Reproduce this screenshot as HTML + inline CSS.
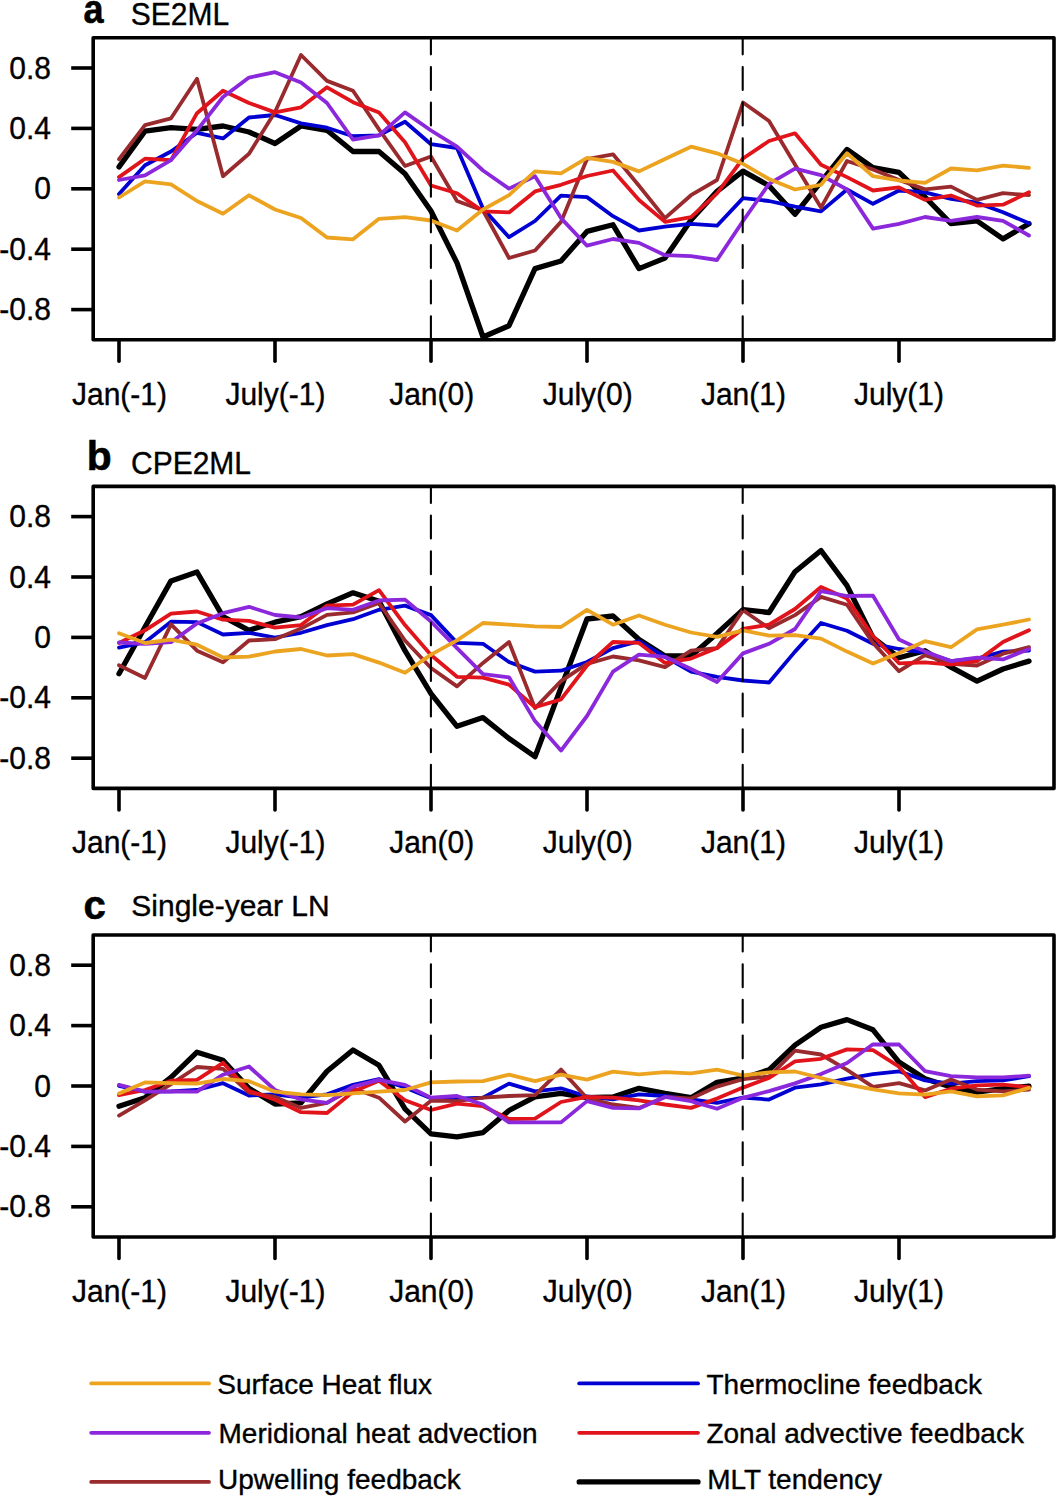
<!DOCTYPE html>
<html><head><meta charset="utf-8"><title>chart</title>
<style>html,body{margin:0;padding:0;background:#fff;}svg{display:block;}</style>
</head><body>
<svg width="1057" height="1497" viewBox="0 0 1057 1497">
<rect x="0" y="0" width="1057" height="1497" fill="#fff"/>

<text transform="translate(83.52,22.60) scale(0.9,1.0)" font-family="'Liberation Sans', sans-serif" font-size="40" font-weight="bold" stroke="#000" stroke-width="0.6">a</text>
<text transform="translate(130.85,25.05) scale(1.0,1.04)" font-family="'Liberation Sans', sans-serif" font-size="30.0" stroke="#000" stroke-width="0.35">SE2ML</text>
<g transform="translate(0,0.0)">
<line x1="71.2" y1="68.0" x2="93.2" y2="68.0" stroke="#000" stroke-width="3.6"/>
<text transform="translate(9.30,78.60) scale(1.0,1.02)" font-family="'Liberation Sans', sans-serif" font-size="30.0" stroke="#000" stroke-width="0.35">0.8</text>
<line x1="71.2" y1="128.4" x2="93.2" y2="128.4" stroke="#000" stroke-width="3.6"/>
<text transform="translate(9.30,139.00) scale(1.0,1.02)" font-family="'Liberation Sans', sans-serif" font-size="30.0" stroke="#000" stroke-width="0.35">0.4</text>
<line x1="71.2" y1="188.8" x2="93.2" y2="188.8" stroke="#000" stroke-width="3.6"/>
<text transform="translate(34.30,199.40) scale(1.0,1.02)" font-family="'Liberation Sans', sans-serif" font-size="30.0" stroke="#000" stroke-width="0.35">0</text>
<line x1="71.2" y1="249.2" x2="93.2" y2="249.2" stroke="#000" stroke-width="3.6"/>
<text transform="translate(-0.70,259.80) scale(1.0,1.02)" font-family="'Liberation Sans', sans-serif" font-size="30.0" stroke="#000" stroke-width="0.35">-0.4</text>
<line x1="71.2" y1="309.6" x2="93.2" y2="309.6" stroke="#000" stroke-width="3.6"/>
<text transform="translate(-0.70,320.20) scale(1.0,1.02)" font-family="'Liberation Sans', sans-serif" font-size="30.0" stroke="#000" stroke-width="0.35">-0.8</text>
<line x1="119.0" y1="341.0" x2="119.0" y2="361.3" stroke="#000" stroke-width="3.6" stroke-linecap="round"/>
<text transform="translate(71.95,404.70) scale(1.0,1.02)" font-family="'Liberation Sans', sans-serif" font-size="30.0" stroke="#000" stroke-width="0.35">Jan(-1)</text>
<line x1="275.0" y1="341.0" x2="275.0" y2="361.3" stroke="#000" stroke-width="3.6" stroke-linecap="round"/>
<text transform="translate(225.40,404.70) scale(1.0,1.02)" font-family="'Liberation Sans', sans-serif" font-size="30.0" stroke="#000" stroke-width="0.35">July(-1)</text>
<line x1="431.0" y1="341.0" x2="431.0" y2="361.3" stroke="#000" stroke-width="3.6" stroke-linecap="round"/>
<text transform="translate(389.15,404.70) scale(1.0,1.02)" font-family="'Liberation Sans', sans-serif" font-size="30.0" stroke="#000" stroke-width="0.35">Jan(0)</text>
<line x1="587.0" y1="341.0" x2="587.0" y2="361.3" stroke="#000" stroke-width="3.6" stroke-linecap="round"/>
<text transform="translate(542.75,404.70) scale(1.0,1.02)" font-family="'Liberation Sans', sans-serif" font-size="30.0" stroke="#000" stroke-width="0.35">July(0)</text>
<line x1="743.0" y1="341.0" x2="743.0" y2="361.3" stroke="#000" stroke-width="3.6" stroke-linecap="round"/>
<text transform="translate(700.90,404.70) scale(1.0,1.02)" font-family="'Liberation Sans', sans-serif" font-size="30.0" stroke="#000" stroke-width="0.35">Jan(1)</text>
<line x1="899.0" y1="341.0" x2="899.0" y2="361.3" stroke="#000" stroke-width="3.6" stroke-linecap="round"/>
<text transform="translate(854.00,404.70) scale(1.0,1.02)" font-family="'Liberation Sans', sans-serif" font-size="30.0" stroke="#000" stroke-width="0.35">July(1)</text>
<g clip-path="url(#clip)">
<polyline points="119.0,166.9 145.0,131.1 171.0,127.7 197.0,129.4 223.0,126.0 249.0,132.0 275.0,143.5 301.0,126.0 327.0,130.3 353.0,151.5 379.0,151.5 405.0,173.7 431.0,211.0 457.0,262.9 483.0,337.0 509.0,325.7 535.0,268.6 561.0,261.0 587.0,231.4 613.0,224.8 639.0,268.6 665.0,258.1 691.0,220.0 717.0,191.4 743.0,171.1 769.0,185.7 795.0,214.3 821.0,181.9 847.0,149.5 873.0,167.6 899.0,172.4 925.0,197.0 951.0,223.7 977.0,220.8 1003.0,238.9 1029.0,223.7" fill="none" stroke="#000000" stroke-width="5.3" stroke-linejoin="round" stroke-linecap="round"/>
<polyline points="119.0,194.1 145.0,165.2 171.0,151.5 197.0,132.8 223.0,138.4 249.0,117.5 275.0,115.0 301.0,123.4 327.0,127.7 353.0,136.2 379.0,135.4 405.0,121.7 431.0,144.2 457.0,148.0 483.0,208.6 509.0,237.1 535.0,221.0 561.0,195.6 587.0,197.1 613.0,216.2 639.0,230.5 665.0,226.7 691.0,223.8 717.0,225.7 743.0,198.1 769.0,201.0 795.0,206.7 821.0,211.4 847.0,189.5 873.0,203.8 899.0,190.5 925.0,192.3 951.0,198.9 977.0,202.7 1003.0,212.3 1029.0,223.3" fill="none" stroke="#0000D2" stroke-width="3.8" stroke-linejoin="round" stroke-linecap="round"/>
<polyline points="119.0,159.2 145.0,125.1 171.0,118.3 197.0,78.8 223.0,176.2 249.0,153.8 275.0,112.0 301.0,55.0 327.0,80.9 353.0,90.7 379.0,129.4 405.0,166.0 431.0,156.5 457.0,201.0 483.0,210.5 509.0,258.0 535.0,250.5 561.0,221.9 587.0,159.0 613.0,154.3 639.0,185.7 665.0,218.1 691.0,195.2 717.0,180.0 743.0,102.5 769.0,121.0 795.0,164.4 821.0,207.6 847.0,161.0 873.0,169.5 899.0,180.0 925.0,189.4 951.0,186.6 977.0,199.9 1003.0,193.2 1029.0,195.1" fill="none" stroke="#992A2D" stroke-width="3.8" stroke-linejoin="round" stroke-linecap="round"/>
<polyline points="119.0,177.1 145.0,158.7 171.0,160.1 197.0,113.2 223.0,90.7 249.0,103.0 275.0,112.4 301.0,107.3 327.0,87.3 353.0,102.2 379.0,112.4 405.0,142.2 431.0,185.5 457.0,193.3 483.0,211.4 509.0,212.4 535.0,191.4 561.0,184.8 587.0,176.0 613.0,170.5 639.0,200.0 665.0,221.9 691.0,217.1 717.0,193.3 743.0,158.5 769.0,141.0 795.0,133.3 821.0,164.8 847.0,177.1 873.0,190.5 899.0,187.4 925.0,199.9 951.0,195.5 977.0,205.6 1003.0,204.7 1029.0,192.3" fill="none" stroke="#E0141A" stroke-width="3.8" stroke-linejoin="round" stroke-linecap="round"/>
<polyline points="119.0,180.0 145.0,175.4 171.0,160.1 197.0,130.3 223.0,97.0 249.0,77.6 275.0,72.2 301.0,82.6 327.0,103.0 353.0,139.6 379.0,135.4 405.0,112.4 431.0,130.5 457.0,146.7 483.0,170.5 509.0,188.6 535.0,176.2 561.0,218.1 587.0,245.7 613.0,239.0 639.0,242.9 665.0,255.2 691.0,256.2 717.0,260.0 743.0,221.0 769.0,183.8 795.0,168.6 821.0,175.2 847.0,189.5 873.0,228.6 899.0,223.8 925.0,217.0 951.0,220.8 977.0,217.0 1003.0,220.8 1029.0,235.5" fill="none" stroke="#8C28DC" stroke-width="3.8" stroke-linejoin="round" stroke-linecap="round"/>
<polyline points="119.0,197.5 145.0,181.3 171.0,184.4 197.0,201.0 223.0,213.7 249.0,195.3 275.0,209.5 301.0,218.0 327.0,237.5 353.0,239.3 379.0,218.8 405.0,217.1 431.0,220.5 457.0,230.5 483.0,209.5 509.0,195.2 535.0,171.4 561.0,173.3 587.0,157.8 613.0,161.9 639.0,171.4 665.0,159.0 691.0,146.7 717.0,153.3 743.0,163.8 769.0,179.0 795.0,189.5 821.0,184.8 847.0,153.3 873.0,176.2 899.0,180.5 925.0,182.8 951.0,168.5 977.0,170.4 1003.0,165.6 1029.0,167.9" fill="none" stroke="#ECA420" stroke-width="3.8" stroke-linejoin="round" stroke-linecap="round"/>
<line x1="430.9" y1="31.45" x2="430.9" y2="339.8" stroke="#000" stroke-width="2.1" stroke-dasharray="22.9 12.7" stroke-linecap="round"/>
<line x1="742.7" y1="31.45" x2="742.7" y2="339.8" stroke="#000" stroke-width="2.1" stroke-dasharray="22.9 12.7" stroke-linecap="round"/>
</g>
<rect x="93.2" y="37.8" width="960.8" height="302.0" fill="none" stroke="#000" stroke-width="3.6" stroke-linejoin="round"/>
</g>
<text transform="translate(86.80,470.10) scale(1.02,1.0)" font-family="'Liberation Sans', sans-serif" font-size="40" font-weight="bold" stroke="#000" stroke-width="0.6">b</text>
<text transform="translate(131.00,473.60) scale(1.0,1.04)" font-family="'Liberation Sans', sans-serif" font-size="30.0" stroke="#000" stroke-width="0.35">CPE2ML</text>
<g transform="translate(0,448.6)">
<line x1="71.2" y1="68.0" x2="93.2" y2="68.0" stroke="#000" stroke-width="3.6"/>
<text transform="translate(9.30,78.60) scale(1.0,1.02)" font-family="'Liberation Sans', sans-serif" font-size="30.0" stroke="#000" stroke-width="0.35">0.8</text>
<line x1="71.2" y1="128.4" x2="93.2" y2="128.4" stroke="#000" stroke-width="3.6"/>
<text transform="translate(9.30,139.00) scale(1.0,1.02)" font-family="'Liberation Sans', sans-serif" font-size="30.0" stroke="#000" stroke-width="0.35">0.4</text>
<line x1="71.2" y1="188.8" x2="93.2" y2="188.8" stroke="#000" stroke-width="3.6"/>
<text transform="translate(34.30,199.40) scale(1.0,1.02)" font-family="'Liberation Sans', sans-serif" font-size="30.0" stroke="#000" stroke-width="0.35">0</text>
<line x1="71.2" y1="249.2" x2="93.2" y2="249.2" stroke="#000" stroke-width="3.6"/>
<text transform="translate(-0.70,259.80) scale(1.0,1.02)" font-family="'Liberation Sans', sans-serif" font-size="30.0" stroke="#000" stroke-width="0.35">-0.4</text>
<line x1="71.2" y1="309.6" x2="93.2" y2="309.6" stroke="#000" stroke-width="3.6"/>
<text transform="translate(-0.70,320.20) scale(1.0,1.02)" font-family="'Liberation Sans', sans-serif" font-size="30.0" stroke="#000" stroke-width="0.35">-0.8</text>
<line x1="119.0" y1="341.0" x2="119.0" y2="361.3" stroke="#000" stroke-width="3.6" stroke-linecap="round"/>
<text transform="translate(71.95,404.70) scale(1.0,1.02)" font-family="'Liberation Sans', sans-serif" font-size="30.0" stroke="#000" stroke-width="0.35">Jan(-1)</text>
<line x1="275.0" y1="341.0" x2="275.0" y2="361.3" stroke="#000" stroke-width="3.6" stroke-linecap="round"/>
<text transform="translate(225.40,404.70) scale(1.0,1.02)" font-family="'Liberation Sans', sans-serif" font-size="30.0" stroke="#000" stroke-width="0.35">July(-1)</text>
<line x1="431.0" y1="341.0" x2="431.0" y2="361.3" stroke="#000" stroke-width="3.6" stroke-linecap="round"/>
<text transform="translate(389.15,404.70) scale(1.0,1.02)" font-family="'Liberation Sans', sans-serif" font-size="30.0" stroke="#000" stroke-width="0.35">Jan(0)</text>
<line x1="587.0" y1="341.0" x2="587.0" y2="361.3" stroke="#000" stroke-width="3.6" stroke-linecap="round"/>
<text transform="translate(542.75,404.70) scale(1.0,1.02)" font-family="'Liberation Sans', sans-serif" font-size="30.0" stroke="#000" stroke-width="0.35">July(0)</text>
<line x1="743.0" y1="341.0" x2="743.0" y2="361.3" stroke="#000" stroke-width="3.6" stroke-linecap="round"/>
<text transform="translate(700.90,404.70) scale(1.0,1.02)" font-family="'Liberation Sans', sans-serif" font-size="30.0" stroke="#000" stroke-width="0.35">Jan(1)</text>
<line x1="899.0" y1="341.0" x2="899.0" y2="361.3" stroke="#000" stroke-width="3.6" stroke-linecap="round"/>
<text transform="translate(854.00,404.70) scale(1.0,1.02)" font-family="'Liberation Sans', sans-serif" font-size="30.0" stroke="#000" stroke-width="0.35">July(1)</text>
<g clip-path="url(#clip)">
<polyline points="119.0,225.1 145.0,178.4 171.0,132.3 197.0,123.4 223.0,168.0 249.0,181.7 275.0,173.6 301.0,168.0 327.0,155.3 353.0,144.2 379.0,152.7 405.0,202.1 431.0,245.1 457.0,277.7 483.0,269.0 509.0,289.9 535.0,308.1 561.0,239.0 587.0,170.4 613.0,167.4 639.0,190.9 665.0,207.4 691.0,207.4 717.0,184.8 743.0,161.0 769.0,163.9 795.0,123.1 821.0,101.9 847.0,137.0 873.0,189.1 899.0,209.1 925.0,202.1 951.0,218.6 977.0,232.5 1003.0,220.4 1029.0,212.5" fill="none" stroke="#000000" stroke-width="5.3" stroke-linejoin="round" stroke-linecap="round"/>
<polyline points="119.0,199.0 145.0,193.6 171.0,173.1 197.0,173.5 223.0,185.9 249.0,184.2 275.0,188.9 301.0,184.2 327.0,176.5 353.0,170.6 379.0,161.2 405.0,157.0 431.0,166.5 457.0,194.3 483.0,195.2 509.0,213.4 535.0,223.0 561.0,222.1 587.0,213.4 613.0,199.5 639.0,192.6 665.0,208.2 691.0,223.0 717.0,228.2 743.0,231.9 769.0,233.9 795.0,203.0 821.0,174.4 847.0,182.2 873.0,195.2 899.0,200.4 925.0,203.9 951.0,212.5 977.0,209.9 1003.0,203.0 1029.0,202.1" fill="none" stroke="#0000D2" stroke-width="3.8" stroke-linejoin="round" stroke-linecap="round"/>
<polyline points="119.0,216.6 145.0,229.4 171.0,175.7 197.0,202.1 223.0,213.7 249.0,191.9 275.0,190.6 301.0,180.0 327.0,166.3 353.0,163.8 379.0,154.4 405.0,191.9 431.0,219.4 457.0,237.8 483.0,214.3 509.0,193.4 535.0,259.5 561.0,232.5 587.0,215.2 613.0,207.9 639.0,211.7 665.0,218.6 691.0,202.1 717.0,199.5 743.0,161.7 769.0,179.6 795.0,166.5 821.0,148.3 847.0,156.1 873.0,194.3 899.0,222.6 925.0,206.5 951.0,215.2 977.0,216.9 1003.0,205.1 1029.0,198.6" fill="none" stroke="#992A2D" stroke-width="3.8" stroke-linejoin="round" stroke-linecap="round"/>
<polyline points="119.0,194.4 145.0,181.7 171.0,165.0 197.0,162.9 223.0,171.1 249.0,172.3 275.0,179.1 301.0,176.5 327.0,157.0 353.0,156.1 379.0,141.6 405.0,176.5 431.0,206.4 457.0,228.2 483.0,229.1 509.0,236.0 535.0,258.6 561.0,250.8 587.0,216.9 613.0,193.4 639.0,194.3 665.0,214.3 691.0,210.0 717.0,199.5 743.0,180.3 769.0,176.1 795.0,160.4 821.0,138.4 847.0,150.0 873.0,187.4 899.0,214.7 925.0,213.8 951.0,216.0 977.0,212.5 1003.0,193.4 1029.0,181.6" fill="none" stroke="#E0141A" stroke-width="3.8" stroke-linejoin="round" stroke-linecap="round"/>
<polyline points="119.0,193.9 145.0,195.3 171.0,193.6 197.0,174.8 223.0,164.6 249.0,158.2 275.0,166.4 301.0,168.9 327.0,159.5 353.0,161.2 379.0,151.9 405.0,151.0 431.0,172.9 457.0,199.5 483.0,225.6 509.0,228.7 535.0,272.5 561.0,302.0 587.0,267.4 613.0,223.0 639.0,206.1 665.0,208.2 691.0,220.4 717.0,233.4 743.0,204.8 769.0,195.2 795.0,180.4 821.0,142.6 847.0,147.4 873.0,147.1 899.0,190.9 925.0,203.0 951.0,212.5 977.0,209.1 1003.0,210.8 1029.0,200.4" fill="none" stroke="#8C28DC" stroke-width="3.8" stroke-linejoin="round" stroke-linecap="round"/>
<polyline points="119.0,184.7 145.0,194.4 171.0,191.0 197.0,196.1 223.0,208.9 249.0,208.1 275.0,202.9 301.0,200.4 327.0,206.9 353.0,205.5 379.0,214.0 405.0,224.2 431.0,206.0 457.0,191.7 483.0,174.4 509.0,176.1 535.0,177.8 561.0,178.4 587.0,161.3 613.0,176.1 639.0,166.9 665.0,176.1 691.0,183.9 717.0,188.2 743.0,181.7 769.0,187.0 795.0,186.5 821.0,190.0 847.0,203.0 873.0,214.8 899.0,204.4 925.0,192.6 951.0,198.6 977.0,180.8 1003.0,176.1 1029.0,170.9" fill="none" stroke="#ECA420" stroke-width="3.8" stroke-linejoin="round" stroke-linecap="round"/>
<line x1="430.9" y1="31.45" x2="430.9" y2="339.8" stroke="#000" stroke-width="2.1" stroke-dasharray="22.9 12.7" stroke-linecap="round"/>
<line x1="742.7" y1="31.45" x2="742.7" y2="339.8" stroke="#000" stroke-width="2.1" stroke-dasharray="22.9 12.7" stroke-linecap="round"/>
</g>
<rect x="93.2" y="37.8" width="960.8" height="302.0" fill="none" stroke="#000" stroke-width="3.6" stroke-linejoin="round"/>
</g>
<text transform="translate(83.53,918.70) scale(1.0,1.0)" font-family="'Liberation Sans', sans-serif" font-size="40" font-weight="bold" stroke="#000" stroke-width="0.6">c</text>
<text transform="translate(131.32,915.90) scale(1.0,1.01)" font-family="'Liberation Sans', sans-serif" font-size="30.0" stroke="#000" stroke-width="0.35">Single-year LN</text>
<g transform="translate(0,897.2)">
<line x1="71.2" y1="68.0" x2="93.2" y2="68.0" stroke="#000" stroke-width="3.6"/>
<text transform="translate(9.30,78.60) scale(1.0,1.02)" font-family="'Liberation Sans', sans-serif" font-size="30.0" stroke="#000" stroke-width="0.35">0.8</text>
<line x1="71.2" y1="128.4" x2="93.2" y2="128.4" stroke="#000" stroke-width="3.6"/>
<text transform="translate(9.30,139.00) scale(1.0,1.02)" font-family="'Liberation Sans', sans-serif" font-size="30.0" stroke="#000" stroke-width="0.35">0.4</text>
<line x1="71.2" y1="188.8" x2="93.2" y2="188.8" stroke="#000" stroke-width="3.6"/>
<text transform="translate(34.30,199.40) scale(1.0,1.02)" font-family="'Liberation Sans', sans-serif" font-size="30.0" stroke="#000" stroke-width="0.35">0</text>
<line x1="71.2" y1="249.2" x2="93.2" y2="249.2" stroke="#000" stroke-width="3.6"/>
<text transform="translate(-0.70,259.80) scale(1.0,1.02)" font-family="'Liberation Sans', sans-serif" font-size="30.0" stroke="#000" stroke-width="0.35">-0.4</text>
<line x1="71.2" y1="309.6" x2="93.2" y2="309.6" stroke="#000" stroke-width="3.6"/>
<text transform="translate(-0.70,320.20) scale(1.0,1.02)" font-family="'Liberation Sans', sans-serif" font-size="30.0" stroke="#000" stroke-width="0.35">-0.8</text>
<line x1="119.0" y1="341.0" x2="119.0" y2="361.3" stroke="#000" stroke-width="3.6" stroke-linecap="round"/>
<text transform="translate(71.95,404.70) scale(1.0,1.02)" font-family="'Liberation Sans', sans-serif" font-size="30.0" stroke="#000" stroke-width="0.35">Jan(-1)</text>
<line x1="275.0" y1="341.0" x2="275.0" y2="361.3" stroke="#000" stroke-width="3.6" stroke-linecap="round"/>
<text transform="translate(225.40,404.70) scale(1.0,1.02)" font-family="'Liberation Sans', sans-serif" font-size="30.0" stroke="#000" stroke-width="0.35">July(-1)</text>
<line x1="431.0" y1="341.0" x2="431.0" y2="361.3" stroke="#000" stroke-width="3.6" stroke-linecap="round"/>
<text transform="translate(389.15,404.70) scale(1.0,1.02)" font-family="'Liberation Sans', sans-serif" font-size="30.0" stroke="#000" stroke-width="0.35">Jan(0)</text>
<line x1="587.0" y1="341.0" x2="587.0" y2="361.3" stroke="#000" stroke-width="3.6" stroke-linecap="round"/>
<text transform="translate(542.75,404.70) scale(1.0,1.02)" font-family="'Liberation Sans', sans-serif" font-size="30.0" stroke="#000" stroke-width="0.35">July(0)</text>
<line x1="743.0" y1="341.0" x2="743.0" y2="361.3" stroke="#000" stroke-width="3.6" stroke-linecap="round"/>
<text transform="translate(700.90,404.70) scale(1.0,1.02)" font-family="'Liberation Sans', sans-serif" font-size="30.0" stroke="#000" stroke-width="0.35">Jan(1)</text>
<line x1="899.0" y1="341.0" x2="899.0" y2="361.3" stroke="#000" stroke-width="3.6" stroke-linecap="round"/>
<text transform="translate(854.00,404.70) scale(1.0,1.02)" font-family="'Liberation Sans', sans-serif" font-size="30.0" stroke="#000" stroke-width="0.35">July(1)</text>
<g clip-path="url(#clip)">
<polyline points="119.0,209.0 145.0,200.5 171.0,180.1 197.0,155.0 223.0,163.0 249.0,191.1 275.0,206.9 301.0,205.6 327.0,174.1 353.0,152.8 379.0,168.1 405.0,211.6 431.0,236.7 457.0,239.7 483.0,235.4 509.0,213.3 535.0,199.7 561.0,196.2 587.0,200.5 613.0,199.7 639.0,191.1 665.0,196.2 691.0,200.5 717.0,185.2 743.0,181.0 769.0,172.6 795.0,147.9 821.0,130.0 847.0,122.4 873.0,132.6 899.0,164.9 925.0,181.5 951.0,189.9 977.0,194.9 1003.0,191.5 1029.0,189.0" fill="none" stroke="#000000" stroke-width="5.3" stroke-linejoin="round" stroke-linecap="round"/>
<polyline points="119.0,188.6 145.0,194.5 171.0,194.2 197.0,192.8 223.0,186.0 249.0,198.3 275.0,197.1 301.0,200.5 327.0,197.1 353.0,187.7 379.0,181.8 405.0,190.3 431.0,201.0 457.0,201.4 483.0,200.5 509.0,186.4 535.0,194.2 561.0,191.1 587.0,199.3 613.0,202.2 639.0,197.1 665.0,198.8 691.0,202.2 717.0,205.6 743.0,200.3 769.0,202.4 795.0,190.5 821.0,187.1 847.0,181.5 873.0,176.9 899.0,174.1 925.0,183.2 951.0,186.5 977.0,184.0 1003.0,183.2 1029.0,179.0" fill="none" stroke="#0000D2" stroke-width="3.8" stroke-linejoin="round" stroke-linecap="round"/>
<polyline points="119.0,218.4 145.0,203.1 171.0,186.9 197.0,169.8 223.0,171.6 249.0,195.4 275.0,199.7 301.0,210.7 327.0,205.6 353.0,191.1 379.0,200.5 405.0,224.3 431.0,203.5 457.0,203.9 483.0,200.5 509.0,198.8 535.0,197.9 561.0,172.4 587.0,201.0 613.0,207.3 639.0,210.7 665.0,199.7 691.0,201.4 717.0,189.4 743.0,181.9 769.0,179.4 795.0,153.5 821.0,157.3 847.0,172.6 873.0,189.7 899.0,185.9 925.0,193.2 951.0,182.3 977.0,192.4 1003.0,194.1 1029.0,192.4" fill="none" stroke="#992A2D" stroke-width="3.8" stroke-linejoin="round" stroke-linecap="round"/>
<polyline points="119.0,197.9 145.0,192.8 171.0,183.5 197.0,182.6 223.0,165.6 249.0,193.7 275.0,202.6 301.0,215.0 327.0,215.8 353.0,194.5 379.0,183.5 405.0,203.1 431.0,212.8 457.0,206.5 483.0,209.0 509.0,221.8 535.0,221.5 561.0,204.8 587.0,199.7 613.0,200.5 639.0,203.1 665.0,207.3 691.0,210.7 717.0,201.4 743.0,190.4 769.0,180.8 795.0,164.1 821.0,161.6 847.0,152.2 873.0,153.0 899.0,169.5 925.0,199.9 951.0,191.5 977.0,188.2 1003.0,187.4 1029.0,189.9" fill="none" stroke="#E0141A" stroke-width="3.8" stroke-linejoin="round" stroke-linecap="round"/>
<polyline points="119.0,187.7 145.0,194.5 171.0,194.2 197.0,194.5 223.0,177.5 249.0,169.3 275.0,192.8 301.0,202.2 327.0,205.6 353.0,189.4 379.0,182.6 405.0,187.7 431.0,200.5 457.0,198.8 483.0,207.3 509.0,225.2 535.0,225.2 561.0,225.2 587.0,203.9 613.0,210.7 639.0,211.2 665.0,199.7 691.0,203.9 717.0,211.6 743.0,200.6 769.0,193.9 795.0,186.2 821.0,176.9 847.0,165.8 873.0,147.1 899.0,147.3 925.0,174.0 951.0,179.0 977.0,180.2 1003.0,180.2 1029.0,178.5" fill="none" stroke="#8C28DC" stroke-width="3.8" stroke-linejoin="round" stroke-linecap="round"/>
<polyline points="119.0,196.2 145.0,185.2 171.0,186.0 197.0,186.4 223.0,181.8 249.0,184.0 275.0,194.5 301.0,197.1 327.0,197.9 353.0,196.2 379.0,194.5 405.0,192.8 431.0,185.2 457.0,184.3 483.0,184.0 509.0,177.5 535.0,184.0 561.0,177.5 587.0,182.4 613.0,174.4 639.0,177.2 665.0,175.0 691.0,176.2 717.0,172.4 743.0,178.3 769.0,175.2 795.0,174.3 821.0,180.8 847.0,187.1 873.0,192.2 899.0,196.1 925.0,197.4 951.0,194.1 977.0,199.1 1003.0,198.2 1029.0,190.7" fill="none" stroke="#ECA420" stroke-width="3.8" stroke-linejoin="round" stroke-linecap="round"/>
<line x1="430.9" y1="31.45" x2="430.9" y2="339.8" stroke="#000" stroke-width="2.1" stroke-dasharray="22.9 12.7" stroke-linecap="round"/>
<line x1="742.7" y1="31.45" x2="742.7" y2="339.8" stroke="#000" stroke-width="2.1" stroke-dasharray="22.9 12.7" stroke-linecap="round"/>
</g>
<rect x="93.2" y="37.8" width="960.8" height="302.0" fill="none" stroke="#000" stroke-width="3.6" stroke-linejoin="round"/>
</g>
<defs><clipPath id="clip"><rect x="93.2" y="37.8" width="960.8" height="302.0"/></clipPath></defs>
<line x1="91.2" y1="1383.4" x2="209.0" y2="1383.4" stroke="#ECA420" stroke-width="3.8" stroke-linecap="round"/>
<text transform="translate(217.30,1394.20) scale(1.0,1.0)" font-family="'Liberation Sans', sans-serif" font-size="28" stroke="#000" stroke-width="0.35">Surface Heat flux</text>
<line x1="91.2" y1="1432.8" x2="209.0" y2="1432.8" stroke="#8C28DC" stroke-width="3.8" stroke-linecap="round"/>
<text transform="translate(218.55,1443.00) scale(1.0,1.0)" font-family="'Liberation Sans', sans-serif" font-size="28" stroke="#000" stroke-width="0.35">Meridional heat advection</text>
<line x1="91.2" y1="1481.9" x2="209.0" y2="1481.9" stroke="#992A2D" stroke-width="3.8" stroke-linecap="round"/>
<text transform="translate(218.05,1488.70) scale(1.0,1.0)" font-family="'Liberation Sans', sans-serif" font-size="28" stroke="#000" stroke-width="0.35">Upwelling feedback</text>
<line x1="579.2" y1="1383.4" x2="698.0" y2="1383.4" stroke="#0000D2" stroke-width="3.8" stroke-linecap="round"/>
<text transform="translate(706.45,1394.20) scale(1.0,1.0)" font-family="'Liberation Sans', sans-serif" font-size="28" stroke="#000" stroke-width="0.35">Thermocline feedback</text>
<line x1="579.2" y1="1432.8" x2="698.0" y2="1432.8" stroke="#E0141A" stroke-width="3.8" stroke-linecap="round"/>
<text transform="translate(706.40,1443.00) scale(1.0,1.0)" font-family="'Liberation Sans', sans-serif" font-size="28" stroke="#000" stroke-width="0.35">Zonal advective feedback</text>
<line x1="579.2" y1="1481.9" x2="698.0" y2="1481.9" stroke="#000000" stroke-width="5.3" stroke-linecap="round"/>
<text transform="translate(707.15,1488.70) scale(1.0,1.0)" font-family="'Liberation Sans', sans-serif" font-size="28" stroke="#000" stroke-width="0.35">MLT tendency</text>
</svg>
</body></html>
